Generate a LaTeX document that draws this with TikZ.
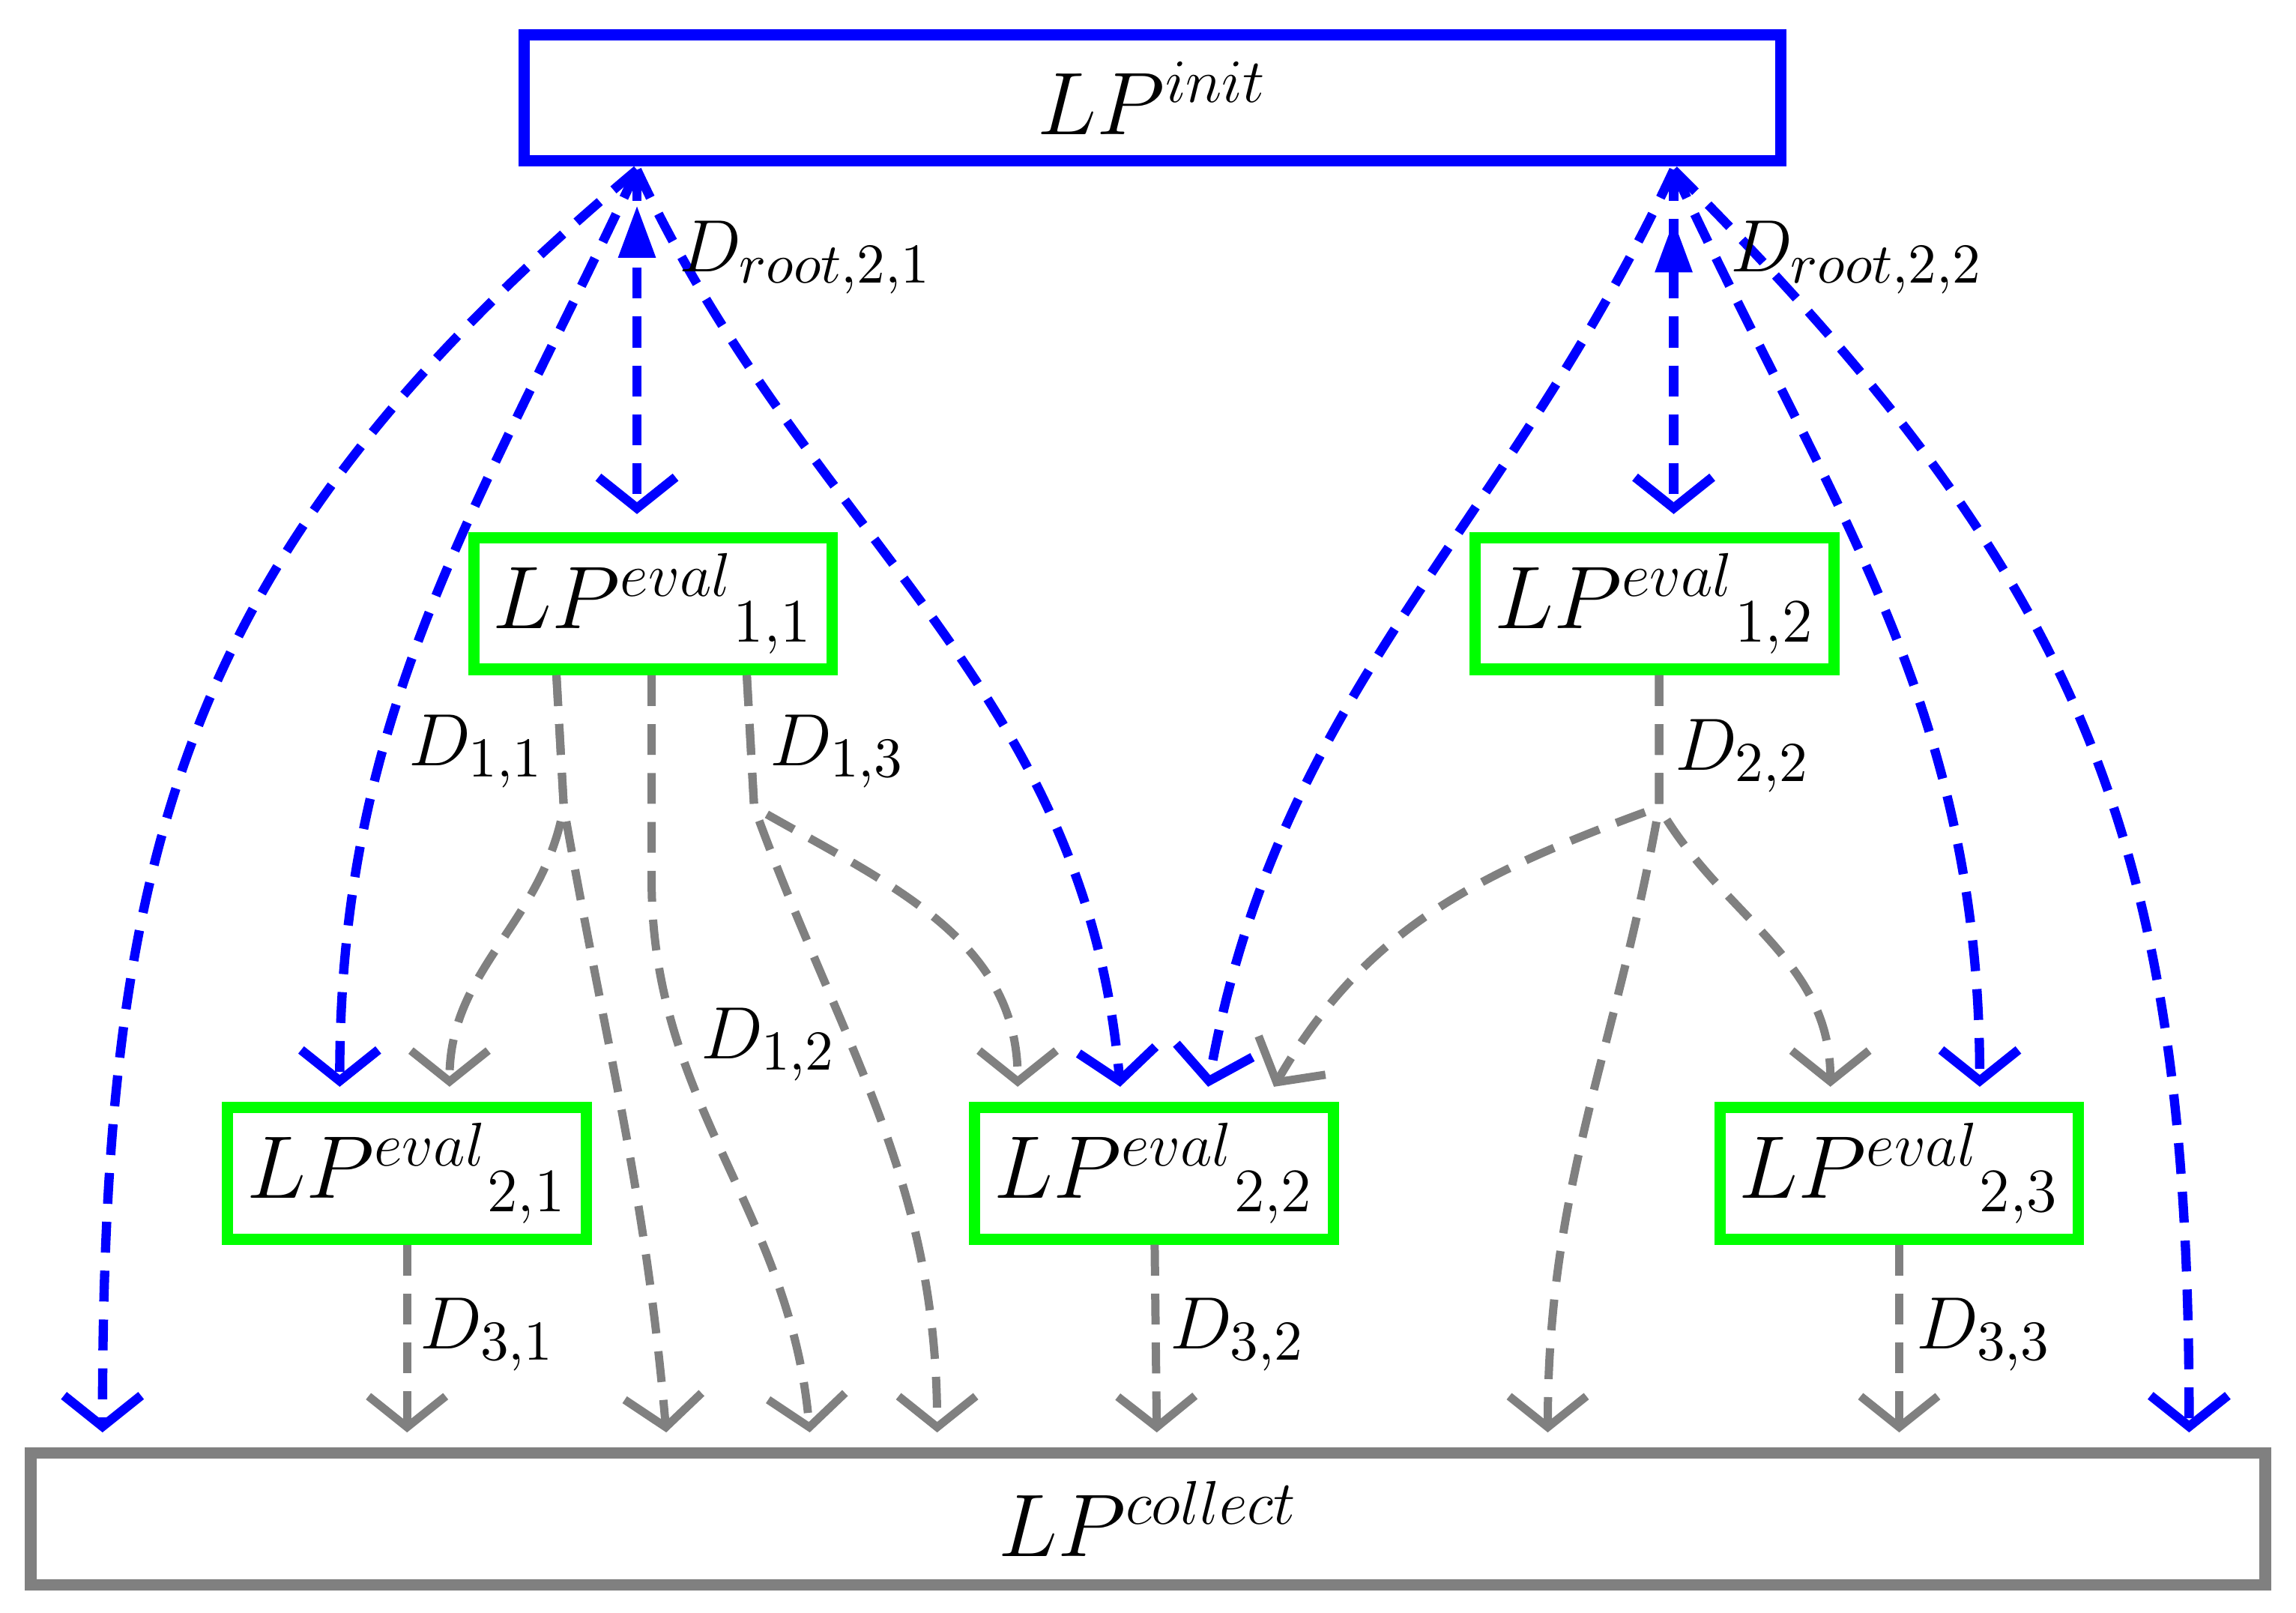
\documentclass[tikz,border=0pt]{standalone}
\usetikzlibrary{arrows.meta}
\begin{document}
\begin{tikzpicture}
    \tikzstyle{boiteI}=[draw=blue,line width=2.2pt,minimum width=8.58cm,minimum height=0.86cm,font=\fontsize{17}{20}\selectfont]
    \tikzstyle{boiteE}=[draw=green,line width=2.2pt,minimum width=2.45cm,minimum height=0.9cm,inner sep=0pt,font=\fontsize{17}{20}\selectfont]
    \tikzstyle{boiteC}=[draw=gray,line width=2.2pt,minimum width=15.26cm,minimum height=0.9cm,font=\fontsize{17}{20}\selectfont]
    \tikzstyle{flecheB}=[draw=blue,line width=1.8pt,dash pattern=on 6pt off 3.5pt,-{Straight Barb[length=6pt,width=15pt,line width=1.8pt]}]
    \tikzstyle{flecheG}=[draw=gray,line width=1.6pt,dash pattern=on 6pt off 3.5pt,-{Straight Barb[length=6pt,width=15pt,line width=1.6pt]}]
    \tikzstyle{etiq}=[font=\fontsize{15}{18}\selectfont,inner sep=1pt]
    \useasboundingbox (0,0) rectangle (15.68,11.01);
    \node[boiteI] (init) at (7.87,10.34) {$LP^{init}$};
    \node[boiteE] (e11) at (4.46,6.89) {$LP^{eval}{}_{1,1}$};
    \node[boiteE] (e12) at (11.30,6.89) {$LP^{eval}{}_{1,2}$};
    \node[boiteE] (e21) at (2.78,3.00) {$LP^{eval}{}_{2,1}$};
    \node[boiteE] (e22) at (7.88,3.00) {$LP^{eval}{}_{2,2}$};
    \node[boiteE] (e23) at (12.97,3.00) {$LP^{eval}{}_{2,3}$};
    \node[boiteC] (coll) at (7.84,0.64) {$LP^{collect}$};
    % sources
    \coordinate (r1) at (4.35,9.85);
    \coordinate (r2) at (11.43,9.85);
    \coordinate (s11) at (3.80,6.40);
    \coordinate (s12) at (4.45,6.40);
    \coordinate (s13) at (5.10,6.40);
    \coordinate (s22) at (11.33,6.40);
    % arrival points
    \coordinate (c1) at (0.70,1.23);
    \coordinate (c2) at (2.78,1.23);
    \coordinate (c3) at (4.55,1.23);
    \coordinate (c4) at (5.53,1.23);
    \coordinate (c5) at (6.40,1.23);
    \coordinate (c6) at (7.90,1.23);
    \coordinate (c7) at (10.57,1.23);
    \coordinate (c8) at (12.97,1.23);
    \coordinate (c9) at (14.95,1.23);
    \coordinate (a21) at (2.32,3.59);
    \coordinate (b21) at (3.07,3.59);
    \coordinate (a22l) at (6.95,3.59);
    \coordinate (a22) at (7.65,3.59);
    \coordinate (b22) at (8.25,3.59);
    \coordinate (b22r) at (8.70,3.59);
    \coordinate (a23) at (12.50,3.59);
    \coordinate (b23) at (13.52,3.59);
    \coordinate (t11) at (4.35,7.50);
    \coordinate (t12) at (11.43,7.50);
    % blue
    \fill[blue] (4.35,9.60) -- (4.22,9.25) -- (4.48,9.25) -- cycle;
    \fill[blue] (11.43,9.50) -- (11.30,9.15) -- (11.56,9.15) -- cycle;
    \draw[flecheB] (r1) -- (t11);
    \draw[flecheB] (r1) to[out=245,in=90] (a21);
    \draw[flecheB] (r1) to[out=220,in=90,looseness=1.1] (c1);
    \draw[flecheB] (r1) to[out=295,in=95] (a22);
    \draw[flecheB] (r2) -- (t12);
    \draw[flecheB] (r2) to[out=245,in=80] (b22);
    \draw[flecheB] (r2) to[out=295,in=90] (b23);
    \draw[flecheB] (r2) to[out=315,in=90,looseness=1.1] (c9);
    % gray
    \draw[flecheG] (s11) -- (3.85,5.50) to[out=260,in=90] (b21);
    \draw[flecheG] (s11) -- (3.85,5.50) to[out=280,in=95] (c3);
    \draw[flecheG] (s12) -- (4.45,5.00) to[out=270,in=95] (c4);
    \draw[flecheG] (s13) -- (5.15,5.50) to[out=330,in=90] (a22l);
    \draw[flecheG] (s13) -- (5.15,5.50) to[out=290,in=90] (c5);
    \draw[flecheG] (s22) -- (11.33,5.50) to[out=200,in=60] (b22r);
    \draw[flecheG] (s22) -- (11.33,5.50) to[out=300,in=90] (a23);
    \draw[flecheG] (s22) -- (11.33,5.50) to[out=260,in=90] (c7);
    \draw[flecheG] (e21) -- (c2);
    \draw[flecheG] (e22) -- (c6);
    \draw[flecheG] (e23) -- (c8);
    % labels
    \node[etiq] at (5.50,9.25) {$D_{root,2,1}$};
    \node[etiq] at (12.68,9.25) {$D_{root,2,2}$};
    \node[etiq] at (3.25,5.88) {$D_{1,1}$};
    \node[etiq] at (5.72,5.88) {$D_{1,3}$};
    \node[etiq] at (5.25,3.88) {$D_{1,2}$};
    \node[etiq] at (11.90,5.85) {$D_{2,2}$};
    \node[etiq] at (3.33,1.90) {$D_{3,1}$};
    \node[etiq] at (8.45,1.90) {$D_{3,2}$};
    \node[etiq] at (13.55,1.90) {$D_{3,3}$};
\end{tikzpicture}
\end{document}
